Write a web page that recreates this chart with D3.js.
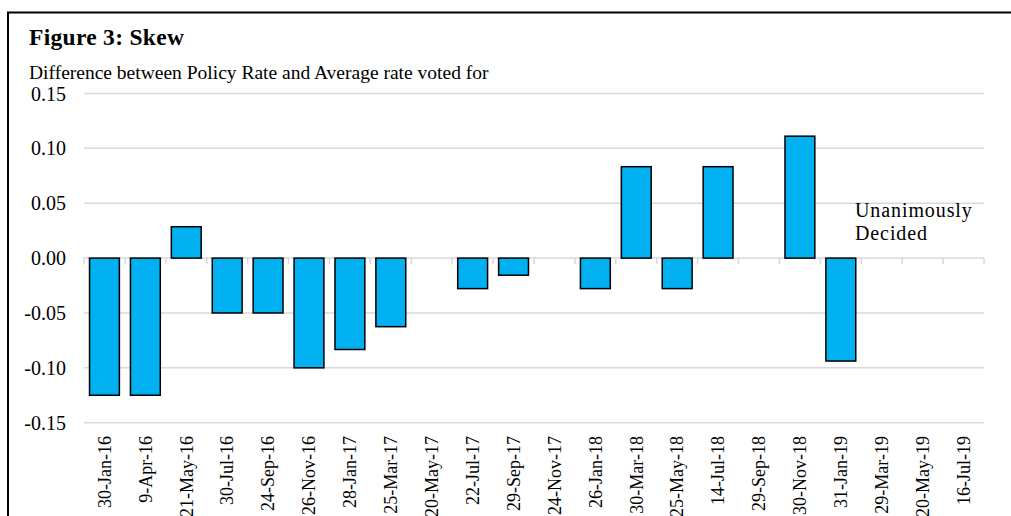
<!DOCTYPE html>
<html>
<head>
<meta charset="utf-8">
<script src="https://cdn.jsdelivr.net/npm/d3@7"></script>
<style>
  html, body { margin: 0; padding: 0; background: #fff; }
  svg { display: block; }
  text { font-family: "Liberation Serif", "Times New Roman", serif; fill: #000; }
</style>
</head>
<body>
<svg id="chart" width="1011" height="516"></svg>
<script>
const categories = ["30-Jan-16","9-Apr-16","21-May-16","30-Jul-16","24-Sep-16","26-Nov-16","28-Jan-17","25-Mar-17","20-May-17","22-Jul-17","29-Sep-17","24-Nov-17","26-Jan-18","30-Mar-18","25-May-18","14-Jul-18","29-Sep-18","30-Nov-18","31-Jan-19","29-Mar-19","20-May-19","16-Jul-19"];
const skew = [-0.125,-0.125,0.0286,-0.05,-0.05,-0.1,-0.0833,-0.0625,0,-0.0278,-0.0156,0,-0.0278,0.0833,-0.0278,0.0833,0,0.1111,-0.0938,null,null,null];
const yTicks = [-0.15,-0.10,-0.05,0.00,0.05,0.10,0.15];
const titleText = "Figure 3: Skew";
const subtitleText = "Difference between Policy Rate and Average rate voted for";
const noteLines = ["Unanimously","Decided"];

const svg = d3.select("#chart");

// outer frame (extends past right/bottom edges)
svg.append("rect").attr("x",8).attr("y",12.5).attr("width",1100).attr("height",600)
  .attr("fill","none").attr("stroke","#000").attr("stroke-width",2);

const x = d3.scaleBand().domain(categories).range([84,984]).paddingInner(0.27).paddingOuter(0.135);
const y = d3.scaleLinear().domain([-0.15,0.15]).range([422.7,93.5]);

// gridlines
svg.append("g").selectAll("line").data(yTicks).join("line")
  .attr("x1",84).attr("x2",984)
  .attr("y1",d=>y(d)).attr("y2",d=>y(d))
  .attr("stroke","#d9d9d9").attr("stroke-width",1.5);

// y tick labels
const fmt = d => d3.format(".2f")(d).replace("\u2212","-");
const yAxis = d3.axisLeft(y).tickValues(yTicks).tickFormat(fmt).tickSize(0).tickPadding(0);
const gy = svg.append("g").attr("transform","translate(66,0)").call(yAxis);
gy.select(".domain").remove();
gy.selectAll("text").attr("font-size",20).attr("font-family","Liberation Serif").attr("fill","#000").attr("dy","0.33em");

// category tick marks below zero line
const tickPos = d3.range(categories.length+1).map(i => 84 + i*(900/categories.length));
svg.append("g").selectAll("line").data(tickPos).join("line")
  .attr("x1",d=>d).attr("x2",d=>d)
  .attr("y1",y(0)).attr("y2",y(0)+6)
  .attr("stroke","#d9d9d9").attr("stroke-width",1.5);

// bars
const data = categories.map((c,i)=>({c, v: skew[i]})).filter(d=>d.v!==null && d.v!==0);
svg.append("g").selectAll("rect").data(data).join("rect")
  .attr("x",d=>x(d.c))
  .attr("width",x.bandwidth())
  .attr("y",d=>y(Math.max(0,d.v)))
  .attr("height",d=>Math.abs(y(d.v)-y(0)))
  .attr("fill","#00b0f0").attr("stroke","#000").attr("stroke-width",1.5);

// x labels
const xAxis = d3.axisBottom(x).tickSize(0).tickPadding(0);
const gx = svg.append("g").attr("transform","translate(0,436)").call(xAxis);
gx.select(".domain").remove();
gx.selectAll("text")
  .attr("font-size",18).attr("font-family","Liberation Serif").attr("fill","#000")
  .attr("text-anchor","end")
  .attr("transform","rotate(-90)")
  .attr("x",0).attr("y",0).attr("dy","0.35em");

// title
svg.append("text").attr("x",29).attr("y",45).attr("font-size",23.5).attr("font-weight","bold").attr("letter-spacing",0.3).text(titleText);
svg.append("text").attr("x",29).attr("y",79).attr("font-size",19.5).text(subtitleText);

// annotation
svg.append("g").selectAll("text").data(noteLines).join("text")
  .attr("x",855).attr("y",(d,i)=>217+i*22.5).attr("font-size",20).attr("letter-spacing",0.9).text(d=>d);
</script>
</body>
</html>
